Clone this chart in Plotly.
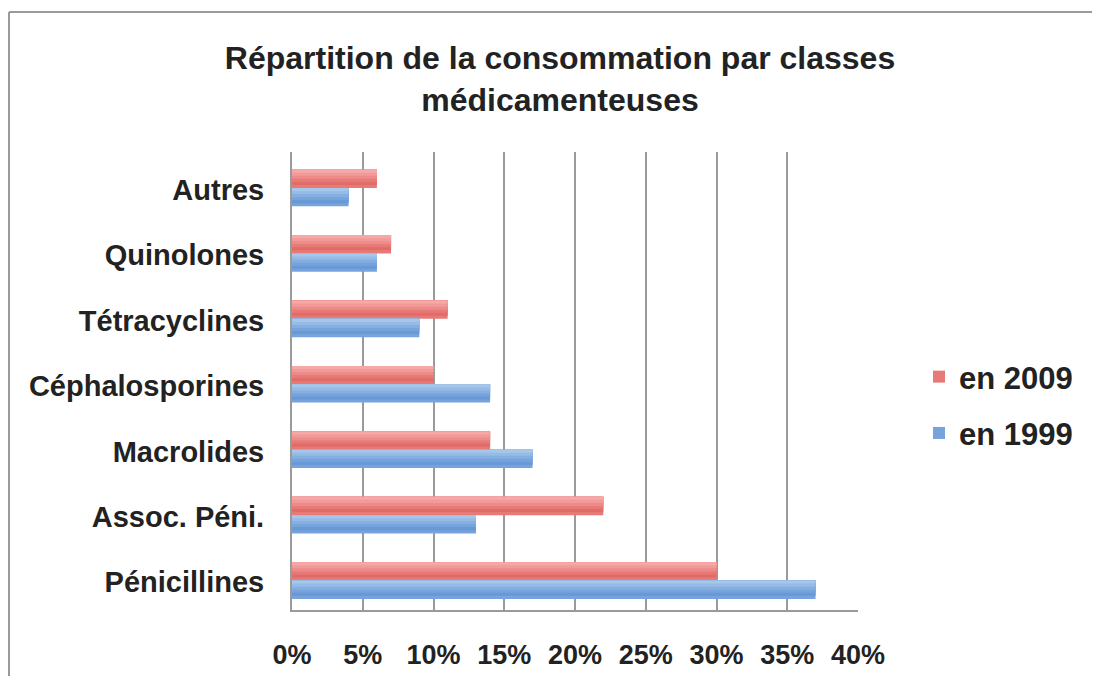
import plotly.graph_objects as go

categories = ["Pénicillines", "Assoc. Péni.", "Macrolides", "Céphalosporines",
              "Tétracyclines", "Quinolones", "Autres"]
values_2009 = [30, 22, 14, 10, 11, 7, 6]
values_1999 = [37, 13, 17, 14, 9, 6, 4]
x_ticks = [0, 5, 10, 15, 20, 25, 30, 35, 40]
x_tick_labels = ["0%", "5%", "10%", "15%", "20%", "25%", "30%", "35%", "40%"]

red_shades = ["#d95f5b", "#e06b67", "#e77a77", "#ed8b89", "#f29a99", "#f6a8a7"]
blue_shades = ["#5b8fd0", "#6898d5", "#76a3db", "#85afe1", "#95bbe6", "#a6c6ea"]

BW = 0.28  # bar thickness in category units
N = len(red_shades)
W, H = 1092, 668          # page has an 8px body margin
L, R, T, B = 284, 242, 144, 66
PW, PH = W - L - R, H - T - B

fig = go.Figure()

def add_series(vals, shades, base_off, name, group):
    fig.add_trace(go.Bar(
        y=categories, x=vals, orientation="h", name="<b>%s</b>" % name,
        legendgroup=group, offset=base_off, width=BW,
        marker=dict(color=shades[2], line=dict(width=0)),
        hoverinfo="x+y",
    ))
    sw = BW / N
    for i, c in enumerate(shades[1:], start=1):
        fig.add_trace(go.Bar(
            y=categories, x=vals, orientation="h", showlegend=False,
            legendgroup=group, offset=base_off + i * sw, width=BW - i * sw,
            marker=dict(color=c, line=dict(width=0)), hoverinfo="skip",
        ))

add_series(values_2009, red_shades, -0.05, "en 2009", "g2009")
add_series(values_1999, blue_shades, -0.05 - BW, "en 1999", "g1999")

fig.update_layout(
    width=W, height=H,
    barmode="overlay",
    paper_bgcolor="white", plot_bgcolor="white",
    margin=dict(l=L, r=R, t=T, b=B, autoexpand=False),
    font=dict(family="Liberation Sans, Arial, sans-serif", color="#222222"),
    title=dict(
        text="<b>Répartition de la consommation par classes<br>médicamenteuses</b>",
        x=(560 - 8) / W, xanchor="center", y=1 - 61 / H, yanchor="middle",
        font=dict(size=32, color="#222222"),
    ),
    legend=dict(
        x=(911 - L) / PW, y=1 - (397 - T) / PH, xanchor="left", yanchor="middle",
        font=dict(size=31, color="#222222"),
        tracegroupgap=13, itemwidth=30, traceorder="grouped",
        bgcolor="rgba(0,0,0,0)",
    ),
    showlegend=True,
    shapes=[dict(type="line", xref="paper", yref="paper",
                 x0=(1 - L) / PW, x1=2, y0=1 + (T - 4) / PH, y1=1 + (T - 4) / PH,
                 line=dict(color="#9a9a9a", width=2)),
            dict(type="line", xref="paper", yref="paper",
                 x0=(1 - L) / PW, x1=(1 - L) / PW, y0=1 + (T - 4) / PH, y1=-1,
                 line=dict(color="#9a9a9a", width=2))],
)

fig.update_xaxes(
    range=[0, 40], tickvals=x_ticks, ticktext=["<b>%s</b>" % t for t in x_tick_labels],
    showgrid=True, gridcolor="#9a9a9a", gridwidth=2,
    showline=True, linecolor="#9a9a9a", linewidth=2,
    ticks="outside", ticklen=20, tickcolor="white", automargin=False,
    tickfont=dict(size=27, color="#222222"), zeroline=False,
)
fig.update_yaxes(
    categoryorder="array", categoryarray=categories,
    showgrid=False, showline=True, linecolor="#9a9a9a", linewidth=2,
    ticks="outside", ticklen=20, tickcolor="white", automargin=False,
    ticklabelshift=5,
    ticktext=["<b>%s</b>" % c for c in categories], tickvals=categories,
    tickfont=dict(size=29, color="#222222"),
)

fig.write_html("out.html")
